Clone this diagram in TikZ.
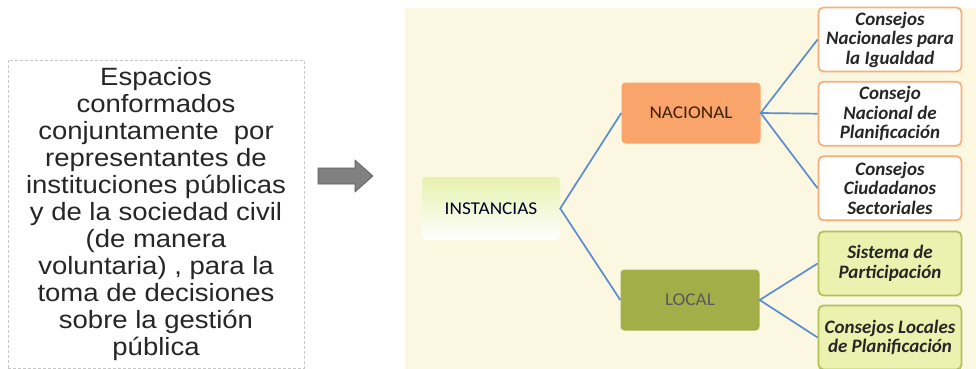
\documentclass[tikz,border=0pt]{standalone}
\usepackage{fontspec}
\setmainfont{Liberation Sans}
\newfontfamily\descfont[FakeStretch=1.1]{Liberation Sans}
\newfontfamily\calib{Carlito}
\newfontfamily\calibw[FakeStretch=1.07]{Carlito}
\definecolor{cream}{HTML}{FBF7E1}
\definecolor{naranja}{HTML}{F8A46B}
\definecolor{naranjaborde}{HTML}{F6B07B}
\definecolor{oliva}{HTML}{A2AE48}
\definecolor{verdeclaro}{HTML}{EBF2B0}
\definecolor{verdeborde}{HTML}{B5C058}
\definecolor{azul}{HTML}{5B8ED0}
\definecolor{gris}{HTML}{808080}
\definecolor{texto}{HTML}{262626}
\definecolor{insttop}{HTML}{E6F2AE}
\definecolor{instmid}{HTML}{E4F4FA}
\tikzset{
  every node/.style={inner sep=0pt, align=center},
  leftbox/.style={draw=black!22, densely dashed, line width=0.6pt, fill=white, minimum width=296pt, minimum height=308pt,
    font=\descfont\fontsize{25}{27}\selectfont, text=black!85},
  midbox/.style={rounded corners=4pt, minimum width=139pt, minimum height=61pt, font=\calibw\fontsize{18}{20}\selectfont},
  leafor/.style={draw=naranjaborde, line width=1.8pt, fill=white, rounded corners=5pt, minimum width=143pt, minimum height=64pt,
    font=\calib\bfseries\itshape\fontsize{19}{19.5}\selectfont, text=texto},
  leafgr/.style={leafor, draw=verdeborde, fill=verdeclaro},
  link/.style={draw=azul, line width=1.7pt}
}
\begin{document}
\begin{tikzpicture}[x=1pt,y=-1pt]
\useasboundingbox (0,0) rectangle (976,369);
\fill[white] (0,0) rectangle (976,369);
\fill[cream] (405,8) rectangle (976,369);
% left text box
\node[leftbox] (desc) at (156,214) {Espacios\\conformados\\conjuntamente\ \ por\\representantes de\\instituciones públicas\\y de la sociedad civil\\(de manera\\voluntaria) , para la\\toma de decisiones\\sobre la gestión\\pública};
% arrow
\draw[fill=gris, draw=black!65, line width=0.6pt] (318,168) -- (355,168) -- (355,160) -- (373,176) -- (355,192) -- (355,184) -- (318,184) -- cycle;
% instancias
\node[midbox, top color=insttop, middle color=instmid, bottom color=white, text=black!85!blue, minimum width=138pt, minimum height=63pt] (inst) at (491,208.5) {INSTANCIAS};
\node[midbox, fill=naranja, text=black!75!orange] (nac) at (691,113) {NACIONAL};
\node[midbox, fill=oliva, text=black!65] (loc) at (690,300) {LOCAL};
% leaves
\node[leafor] (c1) at (890,39.5) {Consejos\\Nacionales para\\la Igualdad};
\node[leafor] (c2) at (890,113.7) {Consejo\\Nacional de\\Planificación};
\node[leafor] (c3) at (890,188.3) {Consejos\\Ciudadanos\\Sectoriales};
\node[leafgr] (c4) at (890,263.5) {Sistema de\\Participación};
\node[leafgr] (c5) at (890,337.5) {Consejos Locales\\de Planificación};
% links
\draw[link] (nac.west) -- (inst.east) -- (loc.west);
\draw[link] (c1.west) -- (nac.east) -- (c3.west);
\draw[link] (nac.east) -- (c2.west);
\draw[link] (c4.west) -- (loc.east) -- (c5.west);
\end{tikzpicture}
\end{document}
